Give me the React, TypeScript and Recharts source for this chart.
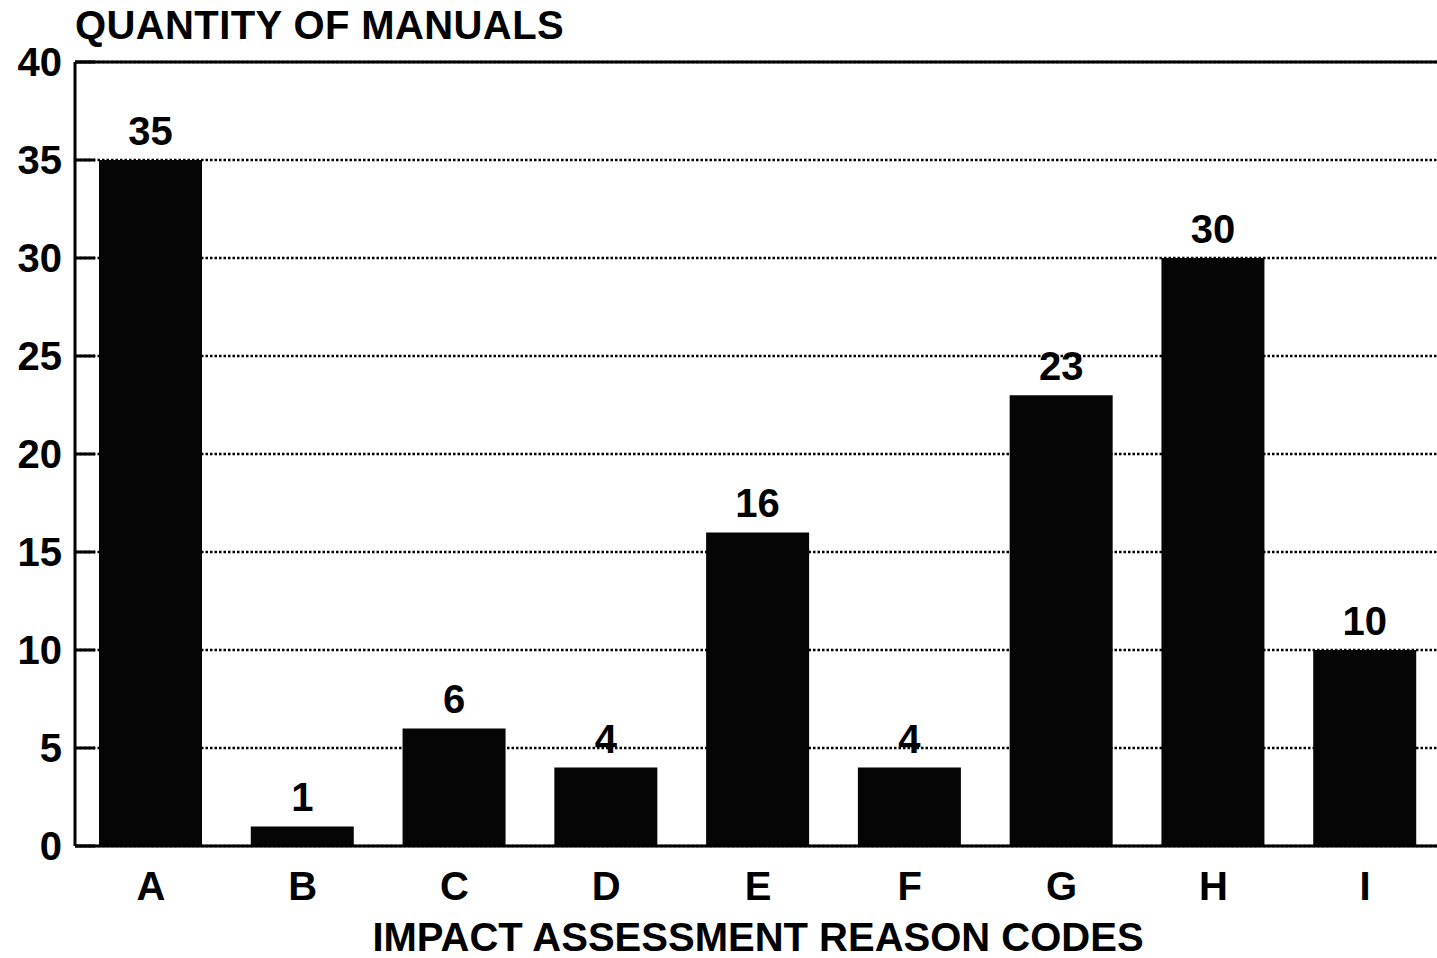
import { Bar, BarChart, CartesianGrid, LabelList, ReferenceLine, XAxis, YAxis } from "recharts";

const codes = ["A", "B", "C", "D", "E", "F", "G", "H", "I"];
const quantities = [35, 1, 6, 4, 16, 4, 23, 30, 10];
const yTicks = [0, 5, 10, 15, 20, 25, 30, 35, 40];

const data = codes.map((code, i) => ({ code, value: quantities[i] }));

const FONT = "'Liberation Sans', Arial, Helvetica, sans-serif";

// y ticks point inward, like the scanned original
function YTick({ x, y, payload }: { x?: number; y?: number; payload?: { value: number } }) {
  const px = x ?? 0;
  const py = y ?? 0;
  return (
    <g>
      <line x1={px + 13} x2={px + 33} y1={py} y2={py} stroke="#000" strokeWidth={3} />
      <text
        x={px}
        y={py}
        dy="0.36em"
        textAnchor="end"
        fontFamily={FONT}
        fontWeight="bold"
        fontSize={40}
        fill="#000"
      >
        {payload?.value}
      </text>
    </g>
  );
}

export default function App() {
  return (
    <div
      style={{
        position: "fixed",
        left: 0,
        top: 0,
        width: 1437,
        height: 958,
        overflow: "hidden",
        background: "#fff",
      }}
    >
      <div
        style={{
          position: "absolute",
          left: 75,
          top: 5,
          fontFamily: FONT,
          fontWeight: "bold",
          fontSize: 40,
          lineHeight: "40px",
          letterSpacing: 0.4,
          color: "#000",
          whiteSpace: "nowrap",
        }}
      >
        QUANTITY OF MANUALS
      </div>
      <BarChart
        width={1441}
        height={958}
        data={data}
        margin={{ top: 62, right: 0, left: 0, bottom: 0 }}
      >
        <CartesianGrid
          horizontal
          vertical={false}
          stroke="#000"
          strokeWidth={2.5}
          strokeDasharray="2.5 2"
        />
        <XAxis
          dataKey="code"
          height={112}
          tickLine={false}
          tickSize={0}
          tickMargin={26}
          axisLine={{ stroke: "#000", strokeWidth: 3 }}
          tick={{ fontFamily: FONT, fontWeight: "bold", fontSize: 40, fill: "#000" }}
        />
        <YAxis
          width={75}
          domain={[0, 40]}
          ticks={yTicks}
          interval={0}
          tickLine={false}
          tickSize={0}
          tickMargin={13}
          axisLine={{ stroke: "#000", strokeWidth: 3 }}
          tick={<YTick />}
        />
        <ReferenceLine y={40} stroke="#000" strokeWidth={3} />
        <Bar dataKey="value" fill="#050505" barSize={103} isAnimationActive={false}>
          <LabelList
            dataKey="value"
            position="top"
            offset={15}
            fontFamily={FONT}
            fontWeight="bold"
            fontSize={40}
            fill="#000"
          />
        </Bar>
      </BarChart>
      <div
        style={{
          position: "absolute",
          left: 75,
          width: 1366,
          top: 920,
          textAlign: "center",
          fontFamily: FONT,
          fontWeight: "bold",
          fontSize: 40,
          lineHeight: "34px",
          color: "#000",
          whiteSpace: "nowrap",
        }}
      >
        IMPACT ASSESSMENT REASON CODES
      </div>
    </div>
  );
}
